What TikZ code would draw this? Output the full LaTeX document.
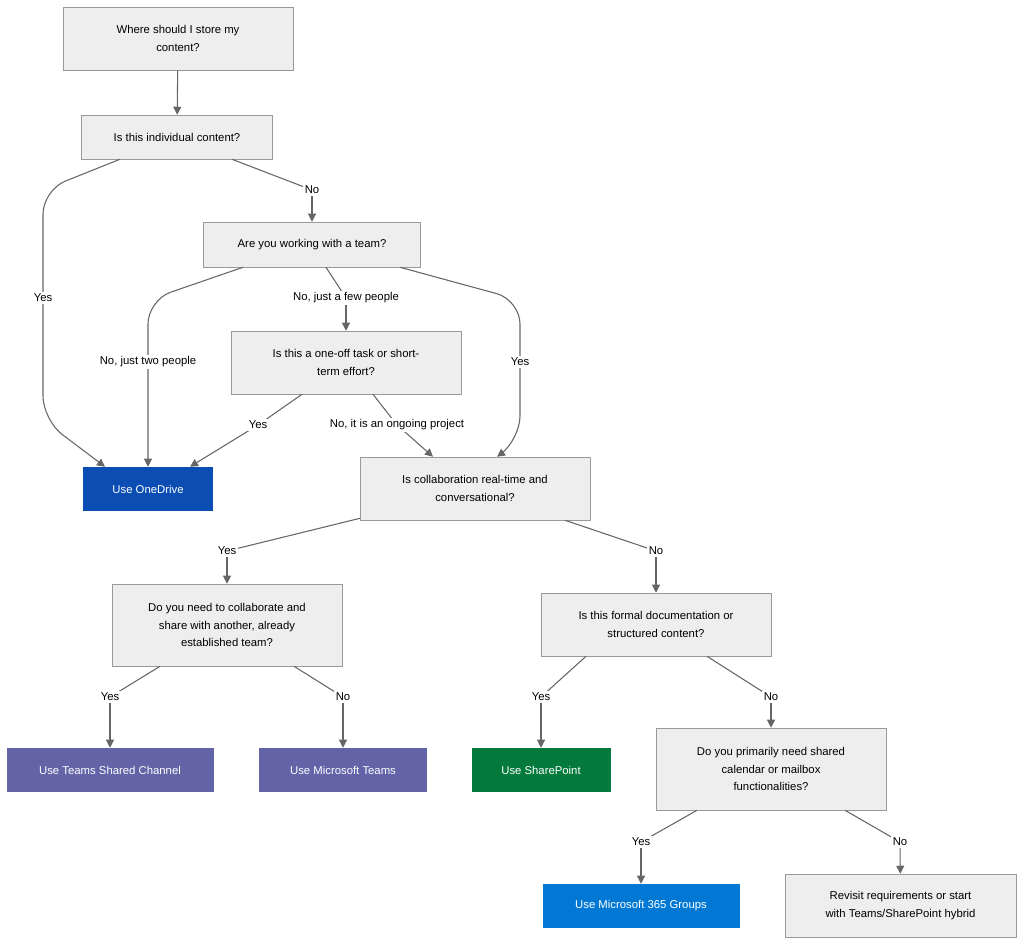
\documentclass[tikz,border=0pt]{standalone}
\usepackage{fontspec}
\setmainfont{Liberation Sans}
\usetikzlibrary{arrows.meta}
\definecolor{boxfill}{HTML}{EEEEEE}
\definecolor{boxline}{HTML}{999999}
\definecolor{edgegray}{HTML}{666666}
\definecolor{onedrive}{HTML}{0B4DB3}
\definecolor{teamspurple}{HTML}{6264A7}
\definecolor{spgreen}{HTML}{037A3B}
\definecolor{groupsblue}{HTML}{0078D4}
\tikzset{
  question/.style = {draw = boxline, fill = boxfill, align = center, inner sep = 2pt},
  answer/.style = {fill = #1, text = white, align = center, inner sep = 2pt},
  edge/.style = {draw = edgegray, line width = 0.8pt, rounded corners = 18pt},
  arr/.style = {edge, -{Triangle[length=6pt,width=6pt]}},
  lbl/.style = {fill = white, inner sep = 1.5pt}
}
\begin{document}
\begin{tikzpicture}[x = 0.75pt, y = -0.75pt, font = \fontsize{8.5}{13}\selectfont]
  \useasboundingbox (0,0) rectangle (1024,947);
  % questions
  \node[question, minimum width = 172.5pt, minimum height = 47.25pt] (start) at (178,38.5) {Where should I store my\\content?};
  \node[question, minimum width = 143.25pt, minimum height = 33pt] (indiv) at (177,137) {Is this individual content?};
  \node[question, minimum width = 162.75pt, minimum height = 33.75pt] (team) at (312,244.5) {Are you working with a team?};
  \node[question, minimum width = 172.5pt, minimum height = 47.25pt] (oneoff) at (346,362.5) {Is this a one-off task or short-\\term effort?};
  \node[question, minimum width = 172.5pt, minimum height = 47.25pt] (realtime) at (475,488.5) {Is collaboration real-time and\\conversational?};
  \node[question, minimum width = 172.5pt, minimum height = 61.5pt] (shared) at (227,625) {Do you need to collaborate and\\share with another, already\\established team?};
  \node[question, minimum width = 172.5pt, minimum height = 47.25pt] (formal) at (656,624.5) {Is this formal documentation or\\structured content?};
  \node[question, minimum width = 172.5pt, minimum height = 61.5pt] (mailbox) at (771,769) {Do you primarily need shared\\calendar or mailbox\\functionalities?};
  % answers
  \node[answer = onedrive, minimum width = 97.5pt, minimum height = 33pt] (od) at (148,489) {Use OneDrive};
  \node[answer = teamspurple, minimum width = 155.25pt, minimum height = 33pt] (tsc) at (110,770) {Use Teams Shared Channel};
  \node[answer = teamspurple, minimum width = 126pt, minimum height = 33pt] (mst) at (343,770) {Use Microsoft Teams};
  \node[answer = spgreen, minimum width = 104.25pt, minimum height = 33pt] (sp) at (541,770) {Use SharePoint};
  \node[answer = groupsblue, minimum width = 147.75pt, minimum height = 33pt] (grp) at (641,906) {Use Microsoft 365 Groups};
  \node[question, minimum width = 173.25pt, minimum height = 47.25pt] (revisit) at (900.5,905.5) {Revisit requirements or start\\with Teams/SharePoint hybrid};
  % connectors
  \draw[arr] (start) -- (indiv);
  \draw[arr] ([shift={(-57,0)}]indiv.south) -- (43,190) -- (43,420) -- ([shift={(-43,0)}]od.north);
  \node[lbl] (l1) at (43,298) {Yes};
  \draw[edge] ([shift={(55,0)}]indiv.south) -- (312,190) coordinate (c2);
  \draw[arr] (c2) -- (team);
  \node[lbl] at (c2) {No};
  \draw[arr] ([shift={(-69,0)}]team.south) -- (148,300) -- (od.north);
  \node[lbl] at (148,362) {No, just two people};
  \draw[edge] ([shift={(14,0)}]team.south) -- (346,298) coordinate (c3);
  \draw[arr] (c3) -- (oneoff);
  \node[lbl] at (c3) {No, just a few people};
  \draw[arr] ([shift={(88,0)}]team.south) -- (520,300) -- (520,440) -- ([shift={(22,0)}]realtime.north);
  \node[lbl] at (520,362) {Yes};
  \draw[edge] ([shift={(-44,0)}]oneoff.south) -- (258,425) coordinate (c4);
  \draw[arr] (c4) -- ([shift={(42,0)}]od.north);
  \node[lbl] at (c4) {Yes};
  \draw[edge] ([shift={(27,0)}]oneoff.south) -- (397,425) coordinate (c5);
  \draw[arr] (c5) -- ([shift={(-42,0)}]realtime.north);
  \node[lbl] at (c5) {No, it is an ongoing project};
  \draw[edge] ([shift={(-115,-2)}]realtime.south) -- (227,551) coordinate (c6);
  \draw[arr] (c6) -- (shared);
  \node[lbl] at (c6) {Yes};
  \draw[edge] ([shift={(90,0)}]realtime.south) -- (656,551) coordinate (c7);
  \draw[arr] (c7) -- (formal);
  \node[lbl] at (c7) {No};
  \draw[edge] ([shift={(-67,0)}]shared.south) -- (110,697) coordinate (c8);
  \draw[arr] (c8) -- (tsc);
  \node[lbl] at (c8) {Yes};
  \draw[edge] ([shift={(67,0)}]shared.south) -- (343,697) coordinate (c9);
  \draw[arr] (c9) -- (mst);
  \node[lbl] at (c9) {No};
  \draw[edge] ([shift={(-70,0)}]formal.south) -- (541,697) coordinate (c10);
  \draw[arr] (c10) -- (sp);
  \node[lbl] at (c10) {Yes};
  \draw[edge] ([shift={(51,0)}]formal.south) -- (771,697) coordinate (c11);
  \draw[arr] (c11) -- (mailbox);
  \node[lbl] at (c11) {No};
  \draw[edge] ([shift={(-74,0)}]mailbox.south) -- (641,842) coordinate (c12);
  \draw[arr] (c12) -- (grp);
  \node[lbl] at (c12) {Yes};
  \draw[edge] ([shift={(74,0)}]mailbox.south) -- (900,842) coordinate (c13);
  \draw[arr] (c13) -- (revisit);
  \node[lbl] at (c13) {No};
\end{tikzpicture}
\end{document}
